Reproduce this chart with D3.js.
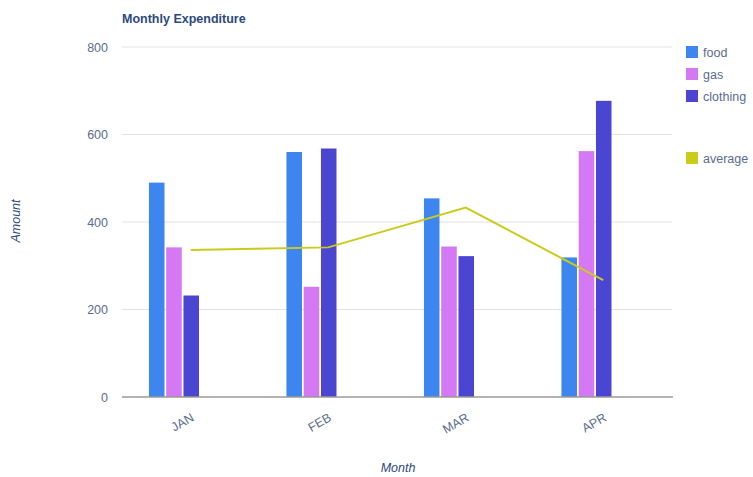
<!DOCTYPE html>
<html><head><meta charset="utf-8">
<script src="https://cdn.jsdelivr.net/npm/d3@7"></script>
<style>body{margin:0;background:#fff}svg{display:block}text{font-family:"Liberation Sans",Arial,sans-serif}</style>
</head><body><svg id="c" width="753" height="477"></svg>
<script>
const months = ["JAN","FEB","MAR","APR"];
const series = ["food","gas","clothing"];
const food = [490, 560, 454, 319];
const gas = [342, 252, 344, 562];
const clothing = [232, 568, 322, 677];
const average = [336, 342, 433, 267];
const yTicks = [0,200,400,600,800];
const colors = {food:"#3d86ef", gas:"#d478f4", clothing:"#4a46d2", average:"#cbcb1c"};

const values = {food, gas, clothing};
const svg = d3.select("#c");
const L = 122, R = 672, T = 47, B = 397;

const x0 = d3.scaleBand().domain(months).range([L, R]).padding(0);
const x1 = d3.scaleBand().domain(series)
  .range([x0.bandwidth()*0.196, x0.bandwidth()*0.56]).paddingInner(0.1);
const y = d3.scaleLinear().domain([0, 800]).range([B, T]);

// gridlines
svg.append("g").selectAll("line").data(yTicks.filter(d=>d>0)).join("line")
  .attr("x1", L).attr("x2", R).attr("y1", d=>y(d)).attr("y2", d=>y(d))
  .attr("stroke", "#e2e2e2").attr("stroke-width", 1);

// y axis labels
const yAxis = d3.axisLeft(y).tickValues(yTicks).tickSize(0).tickPadding(14);
const gy = svg.append("g").attr("transform", `translate(${L},0)`).call(yAxis);
gy.select(".domain").remove();
gy.selectAll("text").attr("fill", "#5b6c8e").attr("font-size", 12.5);

// bars
const g = svg.append("g");
months.forEach((m, i) => {
  series.forEach(s => {
    g.append("rect")
      .attr("x", x0(m) + x1(s)).attr("width", x1.bandwidth())
      .attr("y", y(values[s][i])).attr("height", y(0) - y(values[s][i]))
      .attr("fill", colors[s]);
  });
});

// baseline
svg.append("line").attr("x1", L).attr("x2", R+1).attr("y1", y(0)).attr("y2", y(0))
  .attr("stroke", "#9a9a9a").attr("stroke-width", 1.5);

// average line
const line = d3.line().x((d,i)=>x0(months[i]) + x0.bandwidth()/2).y(d=>y(d));
svg.append("path").datum(average).attr("d", line)
  .attr("fill","none").attr("stroke", colors.average).attr("stroke-width", 2);

// x axis labels
const xAxis = d3.axisBottom(x0).tickSize(0).tickPadding(0);
const gx = svg.append("g").attr("transform", `translate(0,${B})`).call(xAxis);
gx.select(".domain").remove();
gx.selectAll("text").attr("fill", "#5b6c8e").attr("font-size", 12.5)
  .attr("text-anchor", "end").attr("dy", 0).attr("y", 0)
  .attr("transform", "translate(4,23) rotate(-30)");

// title
svg.append("text").attr("x", L).attr("y", 23).text("Monthly Expenditure")
  .attr("font-weight", "bold").attr("font-size", 12.5).attr("fill", "#2c4a7e");

// axis titles
svg.append("text").attr("transform", "translate(20,221) rotate(-90)")
  .attr("text-anchor","middle").attr("font-style","italic").attr("font-size",12.5)
  .attr("fill","#2c4a7e").text("Amount");
svg.append("text").attr("x", 398).attr("y", 472)
  .attr("text-anchor","middle").attr("font-style","italic").attr("font-size",12.5)
  .attr("fill","#2c4a7e").text("Month");

// legend
const legendItems = [["food",52],["gas",74],["clothing",96],["average",158]];
const lg = svg.append("g");
legendItems.forEach(([k, cy]) => {
  lg.append("rect").attr("x", 686).attr("y", cy-6).attr("width", 12).attr("height", 12)
    .attr("fill", colors[k]);
  lg.append("text").attr("x", 703).attr("y", cy+4.5).text(k)
    .attr("font-size", 12.5).attr("fill", "#5b6c8e");
});
</script></body></html>
